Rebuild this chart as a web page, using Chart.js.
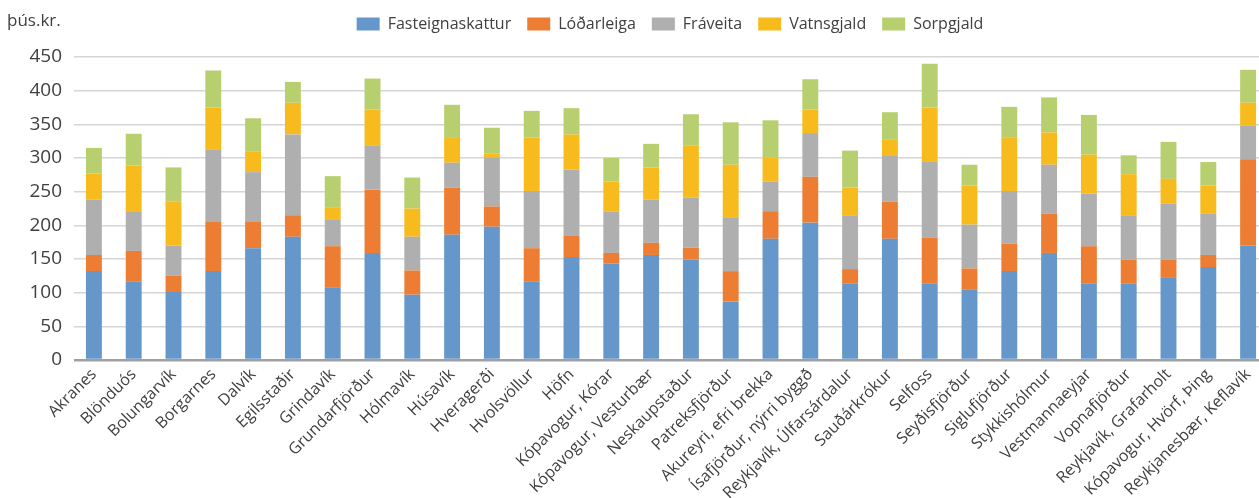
<!DOCTYPE html>
<html>
<head>
<meta charset="utf-8">
<script src="https://cdn.jsdelivr.net/npm/chart.js@4"></script>
<style>
  html, body { margin: 0; padding: 0; background: #fff; overflow: hidden; }
  #wrap { position: absolute; left: 0; top: 0; width: 1268px; height: 498px; }
</style>
</head>
<body>
<div id="wrap"><canvas id="gjoldCan"></canvas></div>
<script>
const stadir = ['Akranes', 'Blönduós', 'Bolungarvík', 'Borgarnes', 'Dalvík', 'Egilsstaðir', 'Grindavík',
  'Grundarfjörður', 'Hólmavík', 'Húsavík', 'Hveragerði', 'Hvolsvöllur', 'Höfn', 'Kópavogur, Kórar',
  'Kópavogur, Vesturbær', 'Neskaupstaður', 'Patreksfjörður', 'Akureyri, efri brekka', 'Ísafjörður, nýrri byggð',
  'Reykjavík, Úlfarsárdalur', 'Sauðárkrókur', 'Selfoss', 'Seyðisfjörður', 'Siglufjörður', 'Stykkishólmur',
  'Vestmannaeyjar', 'Vopnafjörður', 'Reykjavík, Grafarholt', 'Kópavogur, Hvörf, Þing', 'Reykjanesbær, Keflavík']

const fasteignaskattur = [132, 117, 101, 132, 166, 183, 108, 159, 97, 186, 198, 117, 153, 143, 156, 149, 87, 180, 204, 114, 180, 114, 105, 132, 159, 114, 114, 122, 138, 170]
const lodarleiga = [24, 45, 24, 74, 40, 32, 61, 94, 36, 70, 30, 49, 32, 16, 18, 18, 45, 41, 68, 21, 55, 68, 31, 41, 58, 55, 35, 27, 18, 128]
const fraveita = [82, 59, 45, 107, 73, 120, 39, 65, 50, 37, 73, 85, 98, 61, 64, 74, 80, 44, 65, 79, 68, 113, 65, 78, 73, 78, 65, 83, 61, 50]
const vatnsgjald = [39, 68, 65, 62, 31, 47, 19, 54, 42, 38, 6, 80, 52, 45, 48, 78, 78, 36, 35, 42, 24, 80, 58, 79, 48, 58, 62, 37, 42, 34]
const sorpgjald = [38, 47, 51, 55, 49, 31, 46, 46, 46, 48, 38, 39, 39, 35, 35, 46, 63, 55, 45, 55, 41, 65, 31, 46, 52, 59, 28, 55, 35, 49]

const yTicks = [0, 50, 100, 150, 200, 250, 300, 350, 400, 450]
const titill = 'Fasteignagjöld'
const eining = 'þús.kr.'

const textColor = '#404040'
const fontFam = '"Open Sans", "DejaVu Sans", sans-serif'

// title is cut off at the top edge in the original, unit label sits top-left
const extraText = {
  id: 'extraText',
  afterLayout(chart) {
    chart.legend.left += 36
    chart.legend.right += 36
  },
  afterDraw(chart) {
    const ctx = chart.ctx
    ctx.save()
    ctx.fillStyle = '#000'
    ctx.font = 'bold 22px ' + fontFam
    ctx.textAlign = 'left'
    ctx.textBaseline = 'alphabetic'
    ctx.fillText(titill, 624, -5)
    ctx.fillStyle = textColor
    ctx.font = '17px ' + fontFam
    ctx.textBaseline = 'middle'
    ctx.fillText(eining, 7, 21)
    ctx.restore()
  }
}

const legendHeight = {
  id: 'legendHeight',
  beforeInit(chart) {
    const origFit = chart.legend.fit
    chart.legend.fit = function () {
      origFit.bind(chart.legend)()
      this.height = 57
    }
  }
}

document.addEventListener('DOMContentLoaded', () => {
  const canvasEl = document.getElementById('gjoldCan')

  const mkSet = (label, data, color) => ({
    label: label,
    data: data,
    backgroundColor: color,
    borderWidth: 0,
    barPercentage: 0.4,
    categoryPercentage: 1
  })

  new Chart(canvasEl, {
    type: 'bar',
    data: {
      labels: stadir,
      datasets: [
        mkSet('Fasteignaskattur', fasteignaskattur, '#6597ca'),
        mkSet('Lóðarleiga', lodarleiga, '#ed7d32'),
        mkSet('Fráveita', fraveita, '#afafaf'),
        mkSet('Vatnsgjald', vatnsgjald, '#f8bb1e'),
        mkSet('Sorpgjald', sorpgjald, '#b8cf70')
      ]
    },
    options: {
      responsive: true,
      maintainAspectRatio: false,
      animation: false,
      layout: { padding: 0 },
      plugins: {
        legend: {
          position: 'top',
          labels: {
            boxWidth: 23,
            boxHeight: 13,
            padding: 16,
            color: textColor,
            font: { family: fontFam, size: 16 }
          }
        },
        tooltip: { enabled: false }
      },
      scales: {
        x: {
          stacked: true,
          grid: { display: false, drawTicks: false },
          border: { display: false },
          ticks: {
            color: textColor,
            font: { family: fontFam, size: 16 },
            maxRotation: 45,
            minRotation: 45,
            autoSkip: false,
            padding: 5
          },
          afterFit: (scale) => { scale.height = 138 }
        },
        y: {
          stacked: true,
          min: 0,
          max: 450,
          afterBuildTicks: (scale) => { scale.ticks = yTicks.map(v => ({ value: v })) },
          grid: {
            drawTicks: false,
            color: (c) => c.tick && c.tick.value === 0 ? '#a0a0a0' : '#d6d6d6',
            lineWidth: (c) => c.tick && c.tick.value === 0 ? 2.5 : 1.6
          },
          border: { display: false },
          ticks: {
            color: textColor,
            font: { family: fontFam, size: 19 },
            padding: 12
          },
          afterFit: (scale) => { scale.width = 74 }
        }
      }
    },
    plugins: [legendHeight, extraText]
  })
})
</script>
</body>
</html>
